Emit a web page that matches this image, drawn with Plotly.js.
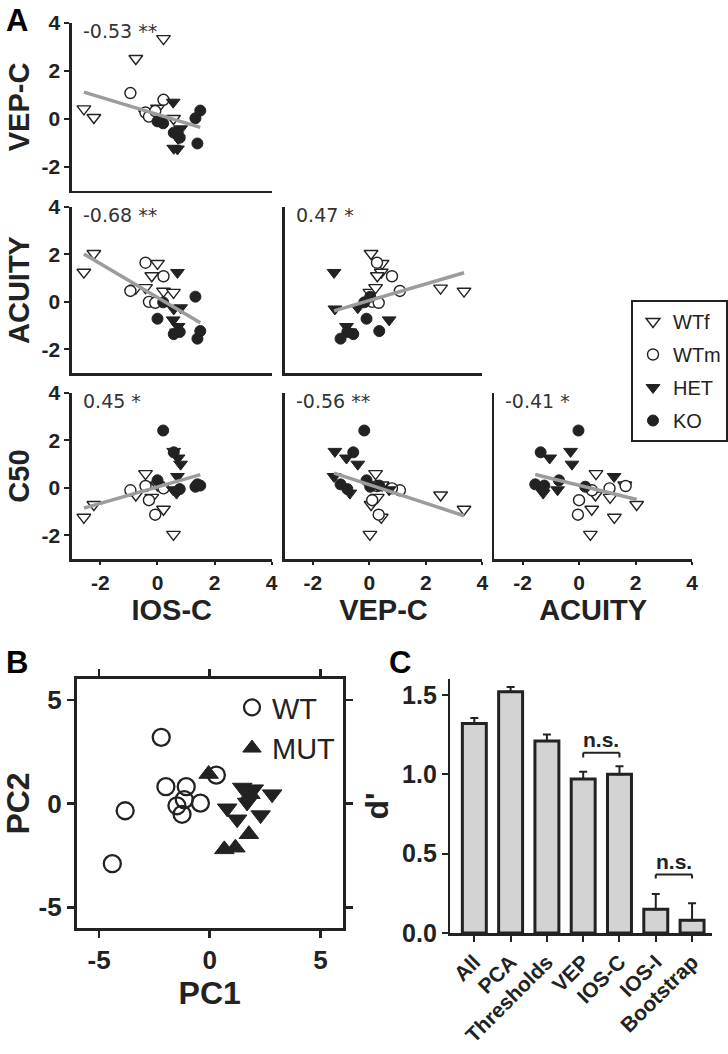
<!DOCTYPE html>
<html><head><meta charset="utf-8">
<script src="https://cdn.plot.ly/plotly-3.0.1.min.js"></script>
<style>html,body{margin:0;padding:0;background:#fff}#chart{width:728px;height:1054px}</style>
</head><body><div id="chart"></div>
<script>
// ---------- Panel A data (z-scored measures per animal) ----------
const WTf_IOS = [-2.58, -2.23, 0.21, -0.76, 0.56, -0.42, -0.20, 0.00];
const WTf_VEP = [0.42, 0.06, 3.35, 2.52, 0.02, 0.22, 0.28, 0.45];
const WTf_ACU = [1.25, 2.04, 0.45, 0.58, 0.40, 0.60, 1.10, 1.62];
const WTf_C50 = [-1.24, -0.70, -0.90, -0.30, -1.96, 0.60, -0.40, 0.12];

const WTm_IOS = [-0.42, -0.95, 0.21, -0.30, -0.08];
const WTm_VEP = [0.27, 1.08, 0.80, 0.10, 0.33];
const WTm_ACU = [1.65, 0.46, 1.08, 0.00, -0.04];
const WTm_C50 = [0.08, -0.10, -0.02, -0.52, -1.13];

const HET_IOS = [0.57, 0.72, 0.81, 0.70, 0.67, 0.55];
const HET_VEP = [-1.22, -0.81, -0.41, -1.25, -0.69, 0.70];
const HET_ACU = [-0.30, -1.04, -0.25, 1.24, -1.27, -0.76];
const HET_C50 = [1.54, 1.26, 1.00, 0.48, -0.22, -0.08];

const KO_IOS = [0.20, 0.57, 0.00, 0.78, 1.33, 1.40, 1.50];
const KO_VEP = [-0.18, -0.57, -0.10, -0.78, 0.03, -1.02, 0.35];
const KO_ACU = [-0.02, -1.36, -0.71, -1.27, 0.22, -1.55, -1.23];
const KO_C50 = [2.42, 1.50, 0.32, -0.05, 0.05, 0.15, 0.10];

const groupNames = ['WTf', 'WTm', 'HET', 'KO'];
const measureLabels = {IOS: 'IOS-C', VEP: 'VEP-C', ACU: 'ACUITY', C50: 'C50'};
const corrLabels = ['-0.53 **', '-0.68 **', '0.47 *', '0.45 *', '-0.56 **', '-0.41 *'];
const zTickVals = [-2, 0, 2, 4];
const zTickText = ['-2', '0', '2', '4'];

// ---------- Panel B data (PCA) ----------
const WT_PC1 = [-2.19, -1.98, -1.06, -1.15, -1.48, -1.25, -0.42, 0.30, -3.82, -4.40];
const WT_PC2 = [3.19, 0.81, 0.81, 0.19, -0.11, -0.52, 0.02, 1.37, -0.35, -2.90];
const MUTa_PC1 = [1.47, 1.99, 2.82, 0.79, 1.24, 2.30, 1.69];
const MUTa_PC2 = [0.77, 0.69, 0.45, -0.23, -0.76, -0.56, 0.05];
const MUTb_PC1 = [-0.05, 1.84, 0.66, 1.16, 1.77];
const MUTb_PC2 = [1.42, 0.45, -2.21, -2.13, -1.48];
const pcTickVals = [-5, 0, 5];
const pcTickText = ['-5', '0', '5'];

// ---------- Panel C data (d') ----------
const classifiers = ['All', 'PCA', 'Thresholds', 'VEP', 'IOS-C', 'IOS-I', 'Bootstrap'];
const dprime = [1.32, 1.52, 1.21, 0.97, 1.00, 0.15, 0.08];
const dprimeErr = [0.035, 0.03, 0.04, 0.045, 0.05, 0.095, 0.107];

// ---------- build ----------
const INK = '#222';
const FONT = 'Liberation Sans, Arial, sans-serif';
const data = {
  IOS: [WTf_IOS, WTm_IOS, HET_IOS, KO_IOS],
  VEP: [WTf_VEP, WTm_VEP, HET_VEP, KO_VEP],
  ACU: [WTf_ACU, WTm_ACU, HET_ACU, KO_ACU],
  C50: [WTf_C50, WTm_C50, HET_C50, KO_C50]
};
const markers = [
  {symbol: 'triangle-down', color: '#fff', size: 12, line: {color: INK, width: 1.4}},
  {symbol: 'circle', color: '#fff', size: 11, line: {color: INK, width: 1.4}},
  {symbol: 'triangle-down', color: INK, size: 12, line: {color: INK, width: 1}},
  {symbol: 'circle', color: INK, size: 11, line: {color: INK, width: 1}}
];
const panels = [
  {xv: 'IOS', yv: 'VEP', r: 0, c: 0},
  {xv: 'IOS', yv: 'ACU', r: 1, c: 0},
  {xv: 'VEP', yv: 'ACU', r: 1, c: 1},
  {xv: 'IOS', yv: 'C50', r: 2, c: 0},
  {xv: 'VEP', yv: 'C50', r: 2, c: 1},
  {xv: 'ACU', yv: 'C50', r: 2, c: 2}
];
const colDom = [[0.0989, 0.3736], [0.3915, 0.6635], [0.6799, 0.9519]];
const rowDom = [[0.8188, 0.9782], [0.6461, 0.8036], [0.4696, 0.6271]];

const traces = [];
const layout = {
  width: 728, height: 1054,
  margin: {l: 0, r: 0, t: 0, b: 0},
  paper_bgcolor: '#fff', plot_bgcolor: '#fff',
  font: {family: FONT, color: INK},
  showlegend: true,
  annotations: [], shapes: []
};

panels.forEach((p, i) => {
  const n = i + 1;
  const xa = n === 1 ? 'x' : 'x' + n, ya = n === 1 ? 'y' : 'y' + n;
  const allX = [], allY = [];
  for (let g = 0; g < 4; g++) {
    const xs = data[p.xv][g], ys = data[p.yv][g];
    allX.push(...xs); allY.push(...ys);
    traces.push({
      type: 'scatter', mode: 'markers', x: xs, y: ys, xaxis: xa, yaxis: ya,
      name: groupNames[g], legendgroup: groupNames[g], showlegend: i === 0,
      marker: markers[g], hoverinfo: 'x+y+name'
    });
  }
  // least-squares regression line
  const m = allX.length;
  const mx = allX.reduce((a, b) => a + b, 0) / m, my = allY.reduce((a, b) => a + b, 0) / m;
  let sxy = 0, sxx = 0;
  for (let k = 0; k < m; k++) { sxy += (allX[k] - mx) * (allY[k] - my); sxx += (allX[k] - mx) ** 2; }
  const slope = sxy / sxx, icpt = my - slope * mx;
  const x0 = Math.min(...allX), x1 = Math.max(...allX);
  traces.push({
    type: 'scatter', mode: 'lines', x: [x0, x1], y: [icpt + slope * x0, icpt + slope * x1],
    xaxis: xa, yaxis: ya, showlegend: false, hoverinfo: 'skip',
    line: {color: '#9c9c9c', width: 3.5}
  });
  const axBase = {
    range: [-3, 4], showline: true, linewidth: 2.5, linecolor: INK,
    showgrid: false, zeroline: false, tickmode: 'array', tickvals: zTickVals, ticktext: zTickText,
    ticklen: 5, tickwidth: 2, tickcolor: INK,
    tickfont: {family: FONT, size: 21, weight: 'bold', color: INK}
  };
  layout['xaxis' + (n === 1 ? '' : n)] = Object.assign({}, axBase, {
    domain: colDom[p.c], anchor: ya,
    showticklabels: p.r === 2, ticks: p.r === 2 ? 'outside' : '', ticklen: 3,
    title: p.r === 2 ? {text: measureLabels[p.xv], font: {family: FONT, size: 29, weight: 'bold', color: INK}, standoff: 4} : {text: ''}
  });
  layout['yaxis' + (n === 1 ? '' : n)] = Object.assign({}, axBase, {
    domain: rowDom[p.r], anchor: xa,
    showticklabels: p.c === 0, ticks: p.c === 0 ? 'outside' : '',
    title: p.c === 0 ? {text: measureLabels[p.yv], font: {family: FONT, size: 29, weight: 'bold', color: INK}, standoff: 4} : {text: ''}
  });
  layout.annotations.push({
    xref: xa + ' domain', yref: ya + ' domain', x: 0.045, y: 1.03,
    xanchor: 'left', yanchor: 'top', showarrow: false, text: corrLabels[i],
    font: {family: 'DejaVu Sans, sans-serif', size: 19, color: '#333'}
  });
});

layout.legend = {
  x: 632 / 728, y: 1 - 300 / 1054, xanchor: 'left', yanchor: 'top',
  bgcolor: '#fff', bordercolor: INK, borderwidth: 2,
  font: {family: FONT, size: 20, color: INK}, itemwidth: 30,
  traceorder: 'grouped', tracegroupgap: 4
};

// Panel B
traces.push({type: 'scatter', mode: 'markers', x: WT_PC1, y: WT_PC2, xaxis: 'x7', yaxis: 'y7',
  name: 'WT', legend: 'legend2',
  marker: {symbol: 'circle', size: 17, color: 'rgba(255,255,255,0)', line: {color: INK, width: 2.3}}});
traces.push({type: 'scatter', mode: 'markers', x: MUTa_PC1, y: MUTa_PC2, xaxis: 'x7', yaxis: 'y7',
  name: 'MUT', legend: 'legend2', showlegend: false,
  marker: {symbol: 'triangle-down', size: 17, color: INK, line: {color: INK, width: 1}}});
traces.push({type: 'scatter', mode: 'markers', x: MUTb_PC1, y: MUTb_PC2, xaxis: 'x7', yaxis: 'y7',
  name: 'MUT', legend: 'legend2',
  marker: {symbol: 'triangle-up', size: 17, color: INK, line: {color: INK, width: 1}}});
const boxAx = {
  range: [-6, 6], tickmode: 'array', tickvals: pcTickVals, ticktext: pcTickText,
  showline: true, mirror: 'ticks', linewidth: 3, linecolor: INK,
  ticks: 'outside', ticklen: 7, tickwidth: 2.5, tickcolor: INK, showgrid: false, zeroline: false,
  tickfont: {family: FONT, size: 26, weight: 'bold', color: INK}
};
layout.xaxis7 = Object.assign({}, boxAx, {domain: [77 / 728, 343 / 728], anchor: 'y7',
  title: {text: 'PC1', font: {family: FONT, size: 32, weight: 'bold', color: INK}, standoff: 4}});
layout.yaxis7 = Object.assign({}, boxAx, {domain: [1 - 928 / 1054, 1 - 679 / 1054], anchor: 'x7',
  title: {text: 'PC2', font: {family: FONT, size: 32, weight: 'bold', color: INK}, standoff: 4}});
layout.legend2 = {
  x: 232 / 728, y: 1 - 682 / 1054, xanchor: 'left', yanchor: 'top',
  bgcolor: 'rgba(0,0,0,0)', borderwidth: 0, itemwidth: 30,
  font: {family: FONT, size: 29, color: INK}
};

// Panel C
traces.push({type: 'bar', x: classifiers, y: dprime, xaxis: 'x8', yaxis: 'y8', showlegend: false,
  width: 0.66, marker: {color: '#d3d3d3', line: {color: INK, width: 3}},
  error_y: {type: 'data', array: dprimeErr, arrayminus: dprime.map(() => 0), symmetric: false,
    color: INK, thickness: 2, width: 4}});
layout.xaxis8 = {
  domain: [451 / 728, 713 / 728], anchor: 'y8', range: [-0.66, 6.55],
  showline: true, linewidth: 2.5, linecolor: INK, ticks: 'outside', ticklen: 6, tickwidth: 2, tickcolor: INK,
  tickangle: -45, showgrid: false, zeroline: false,
  tickfont: {family: FONT, size: 21, weight: 'bold', color: INK}
};
layout.yaxis8 = {
  domain: [1 - 933 / 1054, 1 - 679 / 1054], anchor: 'x8', range: [0, 1.6],
  tickvals: [0, 0.5, 1.0, 1.5], tickformat: '.1f',
  showline: true, linewidth: 2.5, linecolor: INK, ticks: 'outside', ticklen: 6, tickwidth: 2, tickcolor: INK,
  showgrid: false, zeroline: false,
  tickfont: {family: FONT, size: 25, weight: 'bold', color: INK},
  title: {text: "d'", font: {family: FONT, size: 32, weight: 'bold', color: INK}, standoff: 4}
};
// n.s. brackets
function bracket(a, b, y, drop) {
  const ln = {color: INK, width: 2};
  layout.shapes.push({type: 'line', xref: 'x8', yref: 'y8', x0: a, x1: b, y0: y, y1: y, line: ln});
  layout.shapes.push({type: 'line', xref: 'x8', yref: 'y8', x0: a, x1: a, y0: y, y1: y - drop, line: ln});
  layout.shapes.push({type: 'line', xref: 'x8', yref: 'y8', x0: b, x1: b, y0: y, y1: y - drop, line: ln});
  layout.annotations.push({xref: 'x8', yref: 'y8', x: (a + b) / 2, y: y, yanchor: 'bottom', showarrow: false,
    text: 'n.s.', font: {family: FONT, size: 21, weight: 'bold', color: INK}});
}
bracket(3, 4, 1.135, 0.03);
bracket(5, 6, 0.368, 0.025);

// panel letters
[['A', 4, 1], ['B', 4, 643], ['C', 388, 643]].forEach(([t, px, py]) => {
  layout.annotations.push({xref: 'paper', yref: 'paper', x: px / 728, y: 1 - py / 1054,
    xanchor: 'left', yanchor: 'top', showarrow: false, text: t,
    font: {family: FONT, size: 31, weight: 'bold', color: '#000'}});
});

Plotly.newPlot('chart', traces, layout, {displayModeBar: false, staticPlot: true});
</script></body></html>
